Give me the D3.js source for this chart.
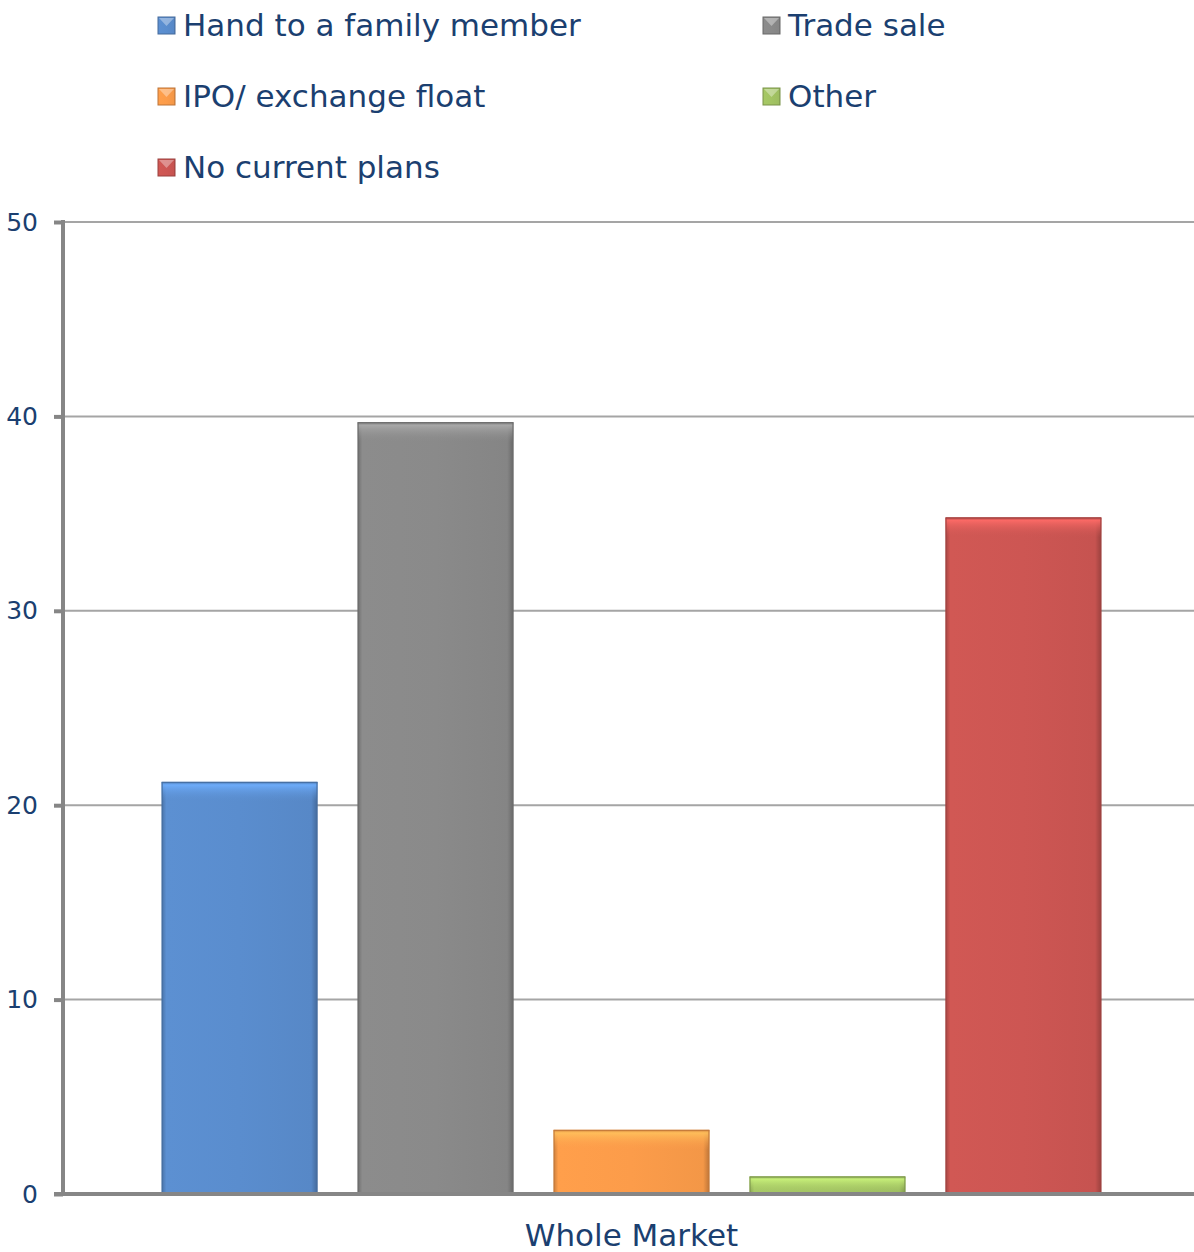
<!DOCTYPE html>
<html>
<head>
<meta charset="utf-8">
<script src="https://cdn.jsdelivr.net/npm/d3@7"></script>
<style>
  html, body { margin: 0; padding: 0; background: #fff; }
  svg { display: block; }
  text { font-family: "DejaVu Sans", sans-serif; fill: #1b3f70; }
</style>
</head>
<body>
<svg id="chart" width="1194" height="1252"></svg>
<script>
// Exit plans – share of respondents (%)
const categories = ["Whole Market"];
const seriesNames = ["Hand to a family member", "Trade sale", "IPO/ exchange float", "Other", "No current plans"];
const seriesValues = [21.2, 39.7, 3.3, 0.9, 34.8];
const seriesColors = ["#5a8dce", "#8a8a8a", "#fc9c4a", "#a3c463", "#cd5653"];
const yTicks = [0, 10, 20, 30, 40, 50];

const svg = d3.select("#chart");
const W = 1194, H = 1252;
const plot = { left: 63, right: 1200, top: 222, bottom: 1194 };

const y = d3.scaleLinear().domain([0, 50]).range([plot.bottom, plot.top]);
const x0 = d3.scaleBand().domain(categories).range([plot.left, plot.right])
  .paddingInner(0).paddingOuter(0.105);
const x1 = d3.scaleBand().domain(seriesNames).range([0, x0.bandwidth()])
  .paddingInner(0.205).paddingOuter(0);
const color = d3.scaleOrdinal().domain(seriesNames).range(seriesColors);

// Gradients giving each bar its bevelled look
const defs = svg.append("defs");
seriesNames.forEach((name, i) => {
  const c = d3.color(seriesColors[i]);
  const g = defs.append("linearGradient").attr("id", "hz" + i)
    .attr("x1", 0).attr("x2", 1).attr("y1", 0).attr("y2", 0);
  g.append("stop").attr("offset", "0%").attr("stop-color", c.darker(0.6));
  g.append("stop").attr("offset", "3%").attr("stop-color", c.brighter(0.05));
  g.append("stop").attr("offset", "50%").attr("stop-color", c);
  g.append("stop").attr("offset", "96%").attr("stop-color", c.darker(0.1));
  g.append("stop").attr("offset", "100%").attr("stop-color", c.darker(0.8));
  const t = defs.append("linearGradient").attr("id", "vt" + i)
    .attr("x1", 0).attr("x2", 0).attr("y1", 0).attr("y2", 1);
  t.append("stop").attr("offset", "0%").attr("stop-color", c.darker(0.5)).attr("stop-opacity", 1);
  t.append("stop").attr("offset", "15%").attr("stop-color", c.brighter(0.6)).attr("stop-opacity", 0.9);
  t.append("stop").attr("offset", "100%").attr("stop-color", c).attr("stop-opacity", 0);
});

// Gridlines
svg.append("g").selectAll("line").data(yTicks.filter(d => d > 0)).join("line")
  .attr("x1", plot.left).attr("x2", W)
  .attr("y1", d => y(d)).attr("y2", d => y(d))
  .attr("stroke", "#a5a5a5").attr("stroke-width", 2);

// Bars
const group = svg.append("g").attr("transform", `translate(${x0(categories[0])},0)`);
const bars = group.selectAll("g.bar").data(seriesValues.map((v, i) => ({ name: seriesNames[i], value: v, i })))
  .join("g").attr("class", "bar");
bars.append("rect")
  .attr("x", d => x1(d.name)).attr("width", x1.bandwidth())
  .attr("y", d => y(d.value)).attr("height", d => y(0) - y(d.value))
  .attr("fill", d => `url(#hz${d.i})`);
bars.append("rect")
  .attr("x", d => x1(d.name)).attr("width", x1.bandwidth())
  .attr("y", d => y(d.value))
  .attr("height", d => Math.min(20, y(0) - y(d.value)))
  .attr("fill", d => `url(#vt${d.i})`);
bars.append("rect")
  .attr("x", d => x1(d.name) + 0.5).attr("width", x1.bandwidth() - 1)
  .attr("y", d => y(d.value) + 0.5).attr("height", d => y(0) - y(d.value) - 0.5)
  .attr("fill", "none")
  .attr("stroke", d => d3.color(color(d.name)).darker(0.7)).attr("stroke-width", 1);

// Y axis
const yAxis = svg.append("g").attr("transform", `translate(${plot.left},0)`)
  .call(d3.axisLeft(y).tickValues(yTicks).tickSize(9).tickPadding(16).tickFormat(d3.format("d")));
yAxis.select(".domain").remove();
yAxis.selectAll(".tick line").attr("stroke", "#868686").attr("stroke-width", 4);
yAxis.selectAll(".tick text").attr("font-size", 25).attr("fill", "#1b3f70")
  .attr("font-family", "DejaVu Sans, sans-serif");
svg.append("line").attr("x1", plot.left).attr("x2", plot.left)
  .attr("y1", plot.top - 2).attr("y2", plot.bottom)
  .attr("stroke", "#868686").attr("stroke-width", 4);

// Baseline
svg.append("line").attr("x1", plot.left - 9).attr("x2", W)
  .attr("y1", y(0)).attr("y2", y(0))
  .attr("stroke", "#868686").attr("stroke-width", 4);

// Category label
svg.append("text").attr("x", x0(categories[0]) + x0.bandwidth() / 2).attr("y", 1246)
  .attr("text-anchor", "middle").attr("font-size", 31).text(categories[0]);

// Legend: two columns, filled row by row
const legend = svg.append("g");
const items = legend.selectAll("g").data(seriesNames).join("g")
  .attr("transform", (d, i) => `translate(${i % 2 === 0 ? 158 : 763},${25 + Math.floor(i / 2) * 71})`);
items.append("rect").attr("x", 0).attr("y", -8).attr("width", 17).attr("height", 17)
  .attr("fill", (d, i) => `url(#hz${i})`)
  .attr("stroke", (d, i) => d3.color(seriesColors[i]).darker(0.8)).attr("stroke-width", 1);
items.append("path").attr("d", "M1,-7 L16,-7 L8.5,1 Z").attr("fill", "#fff").attr("opacity", 0.35);
items.append("text").attr("x", 25).attr("y", 0).attr("dy", "0.36em")
  .attr("font-size", 31).text(d => d);
</script>
</body>
</html>
